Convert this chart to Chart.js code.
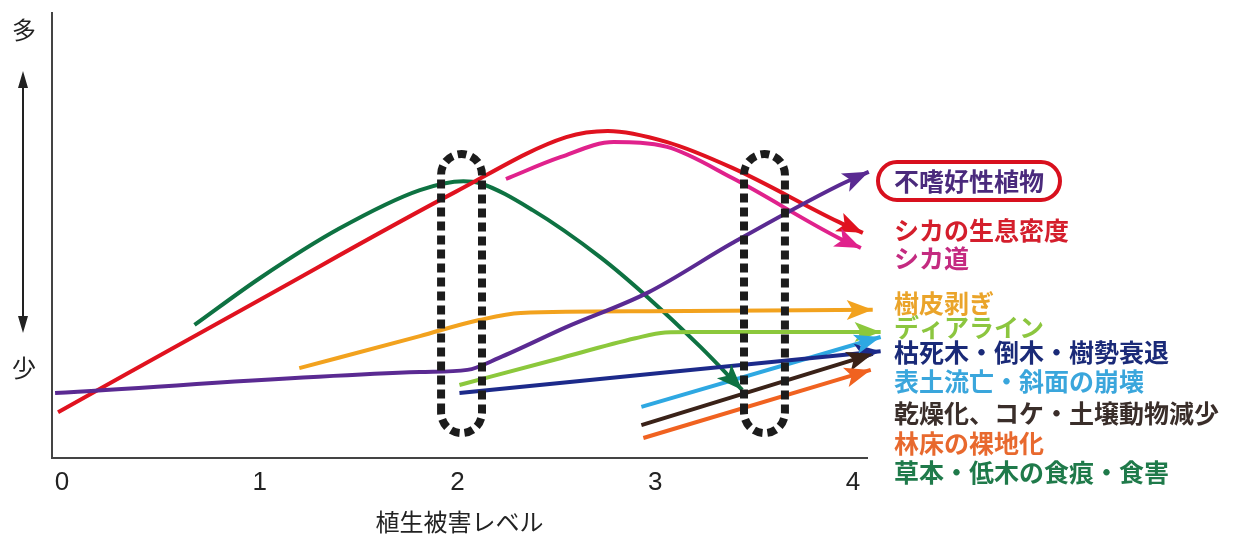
<!DOCTYPE html>
<html>
<head>
<meta charset="utf-8">
<title>植生被害レベルと森林の変化</title>
<style>
  html, body { margin: 0; padding: 0; background: #fff; }
  #wrap { width: 1233px; height: 539px; }
</style>
</head>
<body>
<div id="wrap"><canvas id="chart"></canvas></div>
<script src="https://cdn.jsdelivr.net/npm/chart.js@4.4.0/dist/chart.umd.min.js"></script>
<script>
// x: 植生被害レベル 0-4, y: 相対的な量 (0 = 少, 100 = 多)
const xTicks = [0, 1, 2, 3, 4];

const seriesNames = [
  '不嗜好性植物', 'シカの生息密度', 'シカ道', '樹皮剥ぎ', 'ディアライン',
  '枯死木・倒木・樹勢衰退', '表土流亡・斜面の崩壊', '乾燥化、コケ・土壌動物減少',
  '林床の裸地化', '草本・低木の食痕・食害'
];

const unpalatable = [[-0.035, 14.6], [1.81, 19.3], [2.05, 19.8], [2.21, 22.5], [2.55, 29.4], [2.96, 37.1], [3.39, 48.3], [3.93, 61.3], [4.08, 64.3]];
const deerDensity = [[-0.02, 10.3], [0.99, 35.3], [1.99, 59.8], [2.55, 72.1], [2.76, 73.5], [3.06, 71.0], [3.39, 65.2], [3.93, 53.0], [4.05, 50.6]];
const deerTrail   = [[2.245, 62.7], [2.52, 67.6], [2.79, 71.0], [3.06, 69.9], [3.39, 62.9], [3.93, 49.4], [4.04, 47.2]];
const barkStrip   = [[1.20, 20.2], [1.81, 27.4], [2.11, 31.0], [2.32, 32.6], [2.97, 33.0], [4.10, 33.3]];
const browseLine  = [[2.01, 16.4], [2.50, 22.2], [2.90, 26.9], [3.05, 28.2], [3.20, 28.3], [4.14, 28.3]];
const deadTrees   = [[2.01, 14.6], [4.14, 24.0]];
const soilErosion = [[2.93, 11.5], [4.14, 27.2]];
const drying      = [[2.93, 7.4], [4.10, 23.4]];
const bareFloor   = [[2.94, 4.5], [4.09, 19.8]];
const browsing    = [[0.67, 29.9], [1.00, 40.4], [1.40, 51.5], [1.81, 60.2], [2.03, 62.2], [2.11, 61.8], [2.38, 55.7], [2.72, 45.2], [2.96, 36.2], [3.23, 24.9], [3.44, 15.3]];

// 点線で囲む植生被害レベルの区間
const boxX = [[1.917, 2.124], [3.449, 3.656]];
const boxY = [5.6, 68.3];

const seriesData = [unpalatable, deerDensity, deerTrail, barkStrip, browseLine,
  deadTrees, soilErosion, drying, bareFloor, browsing];
const lineColors = ['#5a2a92', '#e0121f', '#e0228c', '#f2a21e', '#8cc83c',
  '#1c2a8a', '#2ea8e2', '#3a2218', '#f06220', '#0e7242'];
const textColors = ['#4a2a7c', '#d41e2c', '#c42a80', '#eaa42a', '#8cc63f',
  '#1a2a78', '#3aa6dc', '#3a2e2a', '#e8692e', '#1f7a4a'];
const labelRows = [181, 230, 258, 303, 327, 352, 381, 413, 443, 472];

const CJK = '"Noto Sans CJK JP", sans-serif';

const decorations = {
  id: 'decorations',
  afterDatasetsDraw(chart) {
    const ctx = chart.ctx;
    const xs = chart.scales.x, ys = chart.scales.y;

    // arrowheads at the end of every line
    chart.data.datasets.forEach((ds, i) => {
      const pts = chart.getDatasetMeta(i).data;
      const tip = pts[pts.length - 1];
      let fx = tip.cp1x, fy = tip.cp1y;
      if (fx === undefined || (Math.abs(fx - tip.x) < 0.5 && Math.abs(fy - tip.y) < 0.5)) {
        fx = pts[pts.length - 2].x;
        fy = pts[pts.length - 2].y;
      }
      const a = Math.atan2(tip.y - fy, tip.x - fx);
      ctx.save();
      ctx.translate(tip.x, tip.y);
      ctx.rotate(a);
      ctx.beginPath();
      ctx.moveTo(0, 0);
      ctx.lineTo(-26, -10);
      ctx.lineTo(-20, 0);
      ctx.lineTo(-26, 10);
      ctx.closePath();
      ctx.fillStyle = ds.borderColor;
      ctx.fill();
      ctx.restore();
    });

    // dashed capsules
    ctx.save();
    ctx.strokeStyle = '#1c1c1c';
    ctx.lineWidth = 8;
    ctx.setLineDash([9, 5]);
    boxX.forEach(([a, b]) => {
      const x0 = xs.getPixelForValue(a), x1 = xs.getPixelForValue(b);
      const y0 = ys.getPixelForValue(boxY[1]), y1 = ys.getPixelForValue(boxY[0]);
      const r = (x1 - x0) / 2;
      ctx.beginPath();
      ctx.moveTo(x0, y1 - r);
      ctx.lineTo(x0, y0 + r);
      ctx.arc(x0 + r, y0 + r, r, Math.PI, 0);
      ctx.lineTo(x1, y1 - r);
      ctx.arc(x0 + r, y1 - r, r, 0, Math.PI);
      ctx.stroke();
    });
    ctx.restore();
  },
  afterDraw(chart) {
    const ctx = chart.ctx;
    const area = chart.chartArea;

    // 多 / 少 with the double arrow left of the y axis
    const ax = area.left - 29;
    ctx.save();
    ctx.fillStyle = '#222';
    ctx.strokeStyle = '#222';
    ctx.font = '24px ' + CJK;
    ctx.textAlign = 'center';
    ctx.textBaseline = 'middle';
    ctx.fillText('多', ax + 1, 30);
    ctx.fillText('少', ax + 1, 368);
    ctx.lineWidth = 2;
    ctx.beginPath();
    ctx.moveTo(ax, 84);
    ctx.lineTo(ax, 320);
    ctx.stroke();
    ctx.beginPath();
    ctx.moveTo(ax, 71); ctx.lineTo(ax - 5, 88); ctx.lineTo(ax + 5, 88); ctx.closePath();
    ctx.moveTo(ax, 333); ctx.lineTo(ax - 5, 316); ctx.lineTo(ax + 5, 316); ctx.closePath();
    ctx.fill();

    // series names at the right
    const tx = area.right + 27;
    ctx.textAlign = 'left';
    ctx.font = 'bold 25px ' + CJK;
    seriesNames.forEach((name, i) => {
      ctx.fillStyle = textColors[i];
      ctx.fillText(name, tx, labelRows[i]);
    });

    // red frame around 不嗜好性植物
    const w = ctx.measureText(seriesNames[0]).width;
    const bx0 = tx - 16, bx1 = tx + w + 16, by0 = labelRows[0] - 19, by1 = labelRows[0] + 19;
    const r = 19;
    ctx.strokeStyle = '#d8101e';
    ctx.lineWidth = 4;
    ctx.beginPath();
    ctx.moveTo(bx0 + r, by0);
    ctx.lineTo(bx1 - r, by0);
    ctx.arc(bx1 - r, by0 + r, r, -Math.PI / 2, Math.PI / 2);
    ctx.lineTo(bx0 + r, by1);
    ctx.arc(bx0 + r, by0 + r, r, Math.PI / 2, Math.PI * 1.5);
    ctx.closePath();
    ctx.stroke();
    ctx.restore();
  }
};

const datasets = seriesData.map((pts, i) => ({
  label: seriesNames[i],
  data: pts.map(([x, y]) => ({ x, y })),
  borderColor: lineColors[i],
  borderWidth: 4,
  pointRadius: 0,
  cubicInterpolationMode: 'monotone',
  fill: false,
  clip: false
}));

new Chart(document.getElementById('chart'), {
  type: 'line',
  data: { datasets },
  options: {
    responsive: true,
    maintainAspectRatio: false,
    animation: false,
    layout: { padding: { left: 52, right: 366, top: 13, bottom: 0 } },
    plugins: { legend: { display: false }, tooltip: { enabled: false } },
    scales: {
      x: {
        type: 'linear',
        min: -0.0506,
        max: 4.071,
        afterBuildTicks: (scale) => { scale.ticks = xTicks.map(v => ({ value: v })); },
        grid: { display: false, drawTicks: false },
        border: { display: true, color: '#444', width: 2 },
        ticks: {
          color: '#222',
          padding: 9,
          maxRotation: 0,
          font: { family: '"Liberation Sans", Arial, sans-serif', size: 26 }
        },
        title: {
          display: true,
          text: '植生被害レベル',
          color: '#222',
          padding: { top: 0, bottom: 3 },
          font: { family: CJK, size: 24 }
        }
      },
      y: {
        min: 0,
        max: 100,
        grid: { display: false, drawTicks: false },
        border: { display: true, color: '#444', width: 2 },
        ticks: { display: false }
      }
    }
  },
  plugins: [decorations]
});
</script>
</body>
</html>
